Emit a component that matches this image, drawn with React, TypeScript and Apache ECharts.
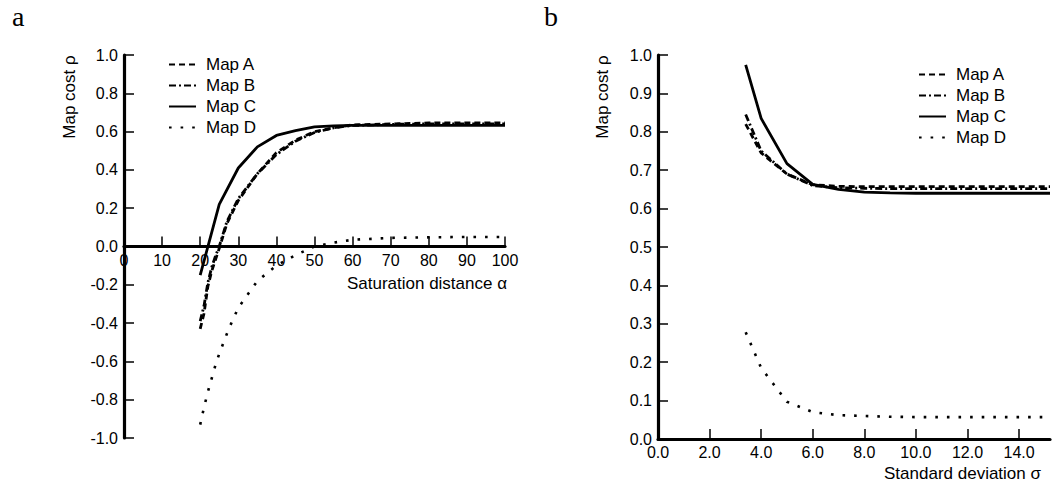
import React, { useEffect, useRef } from "react";
import * as echarts from "echarts";

// ---- Panel a: map cost vs saturation distance ----
const alphaC = [20, 25, 30, 35, 40, 45, 50, 55, 60, 70, 80, 90, 100];
const mapC_a = [-0.15, 0.22, 0.41, 0.52, 0.58, 0.605, 0.625, 0.63, 0.632, 0.632, 0.632, 0.632, 0.632];
const alphaAB = [20, 21, 22, 23, 24, 25, 27, 30, 35, 40, 45, 50, 55, 60, 70, 80, 90, 100];
const mapA_a = [-0.43, -0.35, -0.21, -0.13, -0.07, -0.01, 0.12, 0.24, 0.38, 0.49, 0.555, 0.6, 0.62, 0.635, 0.64, 0.645, 0.645, 0.645];
const mapB_a = [-0.39, -0.31, -0.19, -0.11, -0.05, 0.0, 0.13, 0.25, 0.38, 0.48, 0.55, 0.595, 0.62, 0.632, 0.638, 0.64, 0.64, 0.64];
const alphaD = [20, 21, 22, 23, 24, 25, 27.5, 30, 35, 40, 45, 50, 55, 60, 70, 80, 90, 100];
const mapD_a = [-0.93, -0.84, -0.76, -0.69, -0.62, -0.56, -0.43, -0.32, -0.18, -0.1, -0.045, 0.0, 0.02, 0.035, 0.045, 0.048, 0.05, 0.05];

// ---- Panel b: map cost vs standard deviation ----
const sigma = [3.4, 4, 5, 6, 7, 8, 9, 10, 11, 12, 13, 14, 15.2];
const mapA_s = [0.82, 0.745, 0.69, 0.662, 0.658, 0.657, 0.657, 0.657, 0.657, 0.657, 0.657, 0.657, 0.657];
const mapB_s = [0.845, 0.75, 0.69, 0.66, 0.654, 0.653, 0.652, 0.652, 0.652, 0.652, 0.652, 0.652, 0.652];
const mapC_s = [0.974, 0.835, 0.717, 0.663, 0.65, 0.643, 0.641, 0.64, 0.64, 0.64, 0.64, 0.64, 0.64];
const mapD_s = [0.278, 0.185, 0.097, 0.07, 0.062, 0.06, 0.058, 0.057, 0.057, 0.057, 0.057, 0.057, 0.057];

const sigmaTicks = [0, 2, 4, 6, 8, 10, 12, 14];
const seriesNames = ["Map A", "Map B", "Map C", "Map D"];

const FONT = "Liberation Sans, Arial, Helvetica, sans-serif";

const pairs = (xs: number[], ys: number[]) => xs.map((x, i) => [x, ys[i]]);

const styles: Record<string, any> = {
  "Map A": { type: [6, 4], width: 2.8 },
  "Map B": { type: [7, 3, 2, 3], width: 2.8 },
  "Map C": { type: "solid", width: 2.8 },
  "Map D": { type: [2.6, 9], width: 2.6 },
};

function mk(name: string, data: number[][], idx: number) {
  return {
    name,
    type: "line",
    xAxisIndex: idx,
    yAxisIndex: idx,
    data,
    symbol: "none",
    showSymbol: false,
    smooth: false,
    lineStyle: { color: "#000", width: styles[name].width, type: styles[name].type, cap: "butt" },
    itemStyle: { color: "#000" },
  };
}

// grid geometry of panel a
const GA = { left: 124, top: 55, width: 381, height: 383 };
const Y_MIN_A = -1;
const Y_MAX_A = 1;

export default function App() {
  const ref = useRef<HTMLDivElement>(null);
  useEffect(() => {
    document.body.style.margin = "0";
    if (!ref.current) return;
    const chart = echarts.init(ref.current, undefined, { renderer: "svg" });
    const axisLine = { show: true, onZero: false, lineStyle: { color: "#000", width: 3.2 } };
    const axisTick = { show: true, inside: true, length: 10, lineStyle: { color: "#000", width: 1.5 } };
    const label = { color: "#000", fontSize: 16, fontFamily: FONT };
    // distance from bottom of grid a to its zero line
    const zeroOffset = -GA.height * (0 - Y_MIN_A) / (Y_MAX_A - Y_MIN_A);
    const legendCommon = {
      data: seriesNames,
      orient: "vertical",
      itemWidth: 27,
      itemHeight: 14,
      itemGap: 4,
      itemStyle: { opacity: 0 },
      textStyle: { color: "#000", fontSize: 17, fontFamily: FONT, padding: [0, 0, 0, 5] },
      selectedMode: false,
    };
    const option: any = {
      animation: false,
      backgroundColor: "#fff",
      grid: [
        GA,
        { left: 658, top: 55, width: 392, height: 384 },
      ],
      xAxis: [
        {
          gridIndex: 0,
          type: "value",
          position: "bottom",
          offset: zeroOffset,
          min: 0,
          max: 100,
          interval: 10,
          axisLine,
          axisTick,
          splitLine: { show: false },
          axisLabel: { ...label, margin: 6 },
        },
        {
          gridIndex: 1,
          type: "value",
          min: 0,
          max: 15.2,
          axisLine,
          axisTick: { ...axisTick, customValues: sigmaTicks },
          splitLine: { show: false },
          axisLabel: { ...label, margin: 5, customValues: sigmaTicks, formatter: (v: number) => v.toFixed(1) },
        },
      ],
      yAxis: [
        {
          gridIndex: 0,
          type: "value",
          min: Y_MIN_A,
          max: Y_MAX_A,
          interval: 0.2,
          axisLine,
          axisTick,
          splitLine: { show: false },
          axisLabel: { ...label, margin: 6, formatter: (v: number) => v.toFixed(1) },
        },
        {
          gridIndex: 1,
          type: "value",
          min: 0,
          max: 1,
          interval: 0.1,
          axisLine,
          axisTick,
          splitLine: { show: false },
          axisLabel: { ...label, margin: 6, formatter: (v: number) => v.toFixed(1) },
        },
      ],
      legend: [
        { ...legendCommon, left: 163, top: 51 },
        { ...legendCommon, left: 913, top: 61 },
      ],
      graphic: [
        { type: "text", left: 12, top: 2, style: { text: "a", font: "28px 'Liberation Serif', serif", fill: "#000" } },
        { type: "text", left: 544, top: 2, style: { text: "b", font: "28px 'Liberation Serif', serif", fill: "#000" } },
        {
          type: "text",
          x: 69,
          y: 97,
          rotation: Math.PI / 2,
          style: { text: "Map cost ρ", font: `17px ${FONT}`, fill: "#000", align: "center", verticalAlign: "middle" },
        },
        {
          type: "text",
          x: 602,
          y: 97,
          rotation: Math.PI / 2,
          style: { text: "Map cost ρ", font: `17px ${FONT}`, fill: "#000", align: "center", verticalAlign: "middle" },
        },
        {
          type: "text",
          x: 507,
          y: 283,
          style: { text: "Saturation distance α", font: `17px ${FONT}`, fill: "#000", align: "right", verticalAlign: "middle" },
        },
        {
          type: "text",
          x: 884,
          y: 473,
          style: { text: "Standard deviation σ", font: `17px ${FONT}`, fill: "#000", align: "left", verticalAlign: "middle" },
        },
      ],
      series: [
        mk("Map A", pairs(alphaAB, mapA_a), 0),
        mk("Map B", pairs(alphaAB, mapB_a), 0),
        mk("Map C", pairs(alphaC, mapC_a), 0),
        mk("Map D", pairs(alphaD, mapD_a), 0),
        mk("Map A", pairs(sigma, mapA_s), 1),
        mk("Map B", pairs(sigma, mapB_s), 1),
        mk("Map C", pairs(sigma, mapC_s), 1),
        mk("Map D", pairs(sigma, mapD_s), 1),
      ],
    };
    chart.setOption(option);
    return () => chart.dispose();
  }, []);
  return <div ref={ref} style={{ width: 1052, height: 485 }} />;
}
